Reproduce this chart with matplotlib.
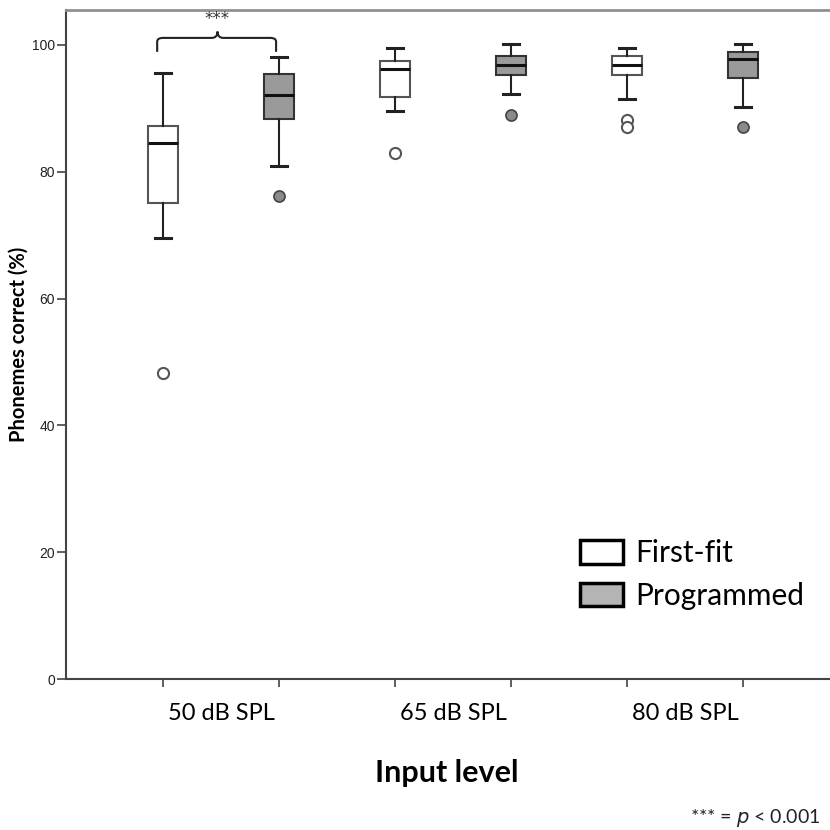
import matplotlib
matplotlib.use('Agg')
import matplotlib.pyplot as plt
from matplotlib.patches import Patch, PathPatch
from matplotlib.path import Path

# values (phonemes correct, %)
levels = ['50 dB SPL', '65 dB SPL', '80 dB SPL']

ff_whislo = [69.6, 89.6, 91.5]
ff_q1 = [75.1, 91.8, 95.2]
ff_med = [84.5, 96.2, 96.9]
ff_q3 = [87.2, 97.5, 98.3]
ff_whishi = [95.6, 99.5, 99.5]
ff_fliers = [[48.3], [83.0], [88.2, 87.0]]

pr_whislo = [80.9, 92.2, 90.2]
pr_q1 = [88.3, 95.2, 94.8]
pr_med = [92.1, 96.9, 97.8]
pr_q3 = [95.4, 98.3, 98.9]
pr_whishi = [98.1, 100.2, 100.2]
pr_fliers = [[76.2], [88.9], [87.0]]


def make_stats(lo, q1, med, q3, hi, fl):
    return [dict(whislo=a, q1=b, med=c, q3=d, whishi=e, fliers=f)
            for a, b, c, d, e, f in zip(lo, q1, med, q3, hi, fl)]


fig = plt.figure(figsize=(8.3, 8.3), dpi=100)
ax = fig.add_axes([66 / 830, 151 / 830, 774 / 830, 669 / 830])

ff_pos = [1, 3, 5]
pr_pos = [2, 4, 6]
bw = 0.26

ax.bxp(make_stats(ff_whislo, ff_q1, ff_med, ff_q3, ff_whishi, ff_fliers),
       positions=ff_pos, widths=bw, patch_artist=True,
       boxprops=dict(facecolor='white', edgecolor='#555555', linewidth=1.5),
       medianprops=dict(color='#111111', linewidth=2.2),
       whiskerprops=dict(color='#222222', linewidth=1.5),
       capprops=dict(color='#222222', linewidth=2.2),
       capwidths=bw / 2,
       flierprops=dict(marker='o', markersize=8, markerfacecolor='white',
                       markeredgecolor='#555555', markeredgewidth=1.5))

ax.bxp(make_stats(pr_whislo, pr_q1, pr_med, pr_q3, pr_whishi, pr_fliers),
       positions=pr_pos, widths=bw, patch_artist=True,
       boxprops=dict(facecolor='#9a9a9a', edgecolor='#333333', linewidth=1.5),
       medianprops=dict(color='#111111', linewidth=2.2),
       whiskerprops=dict(color='#222222', linewidth=1.5),
       capprops=dict(color='#222222', linewidth=2.2),
       capwidths=bw / 2,
       flierprops=dict(marker='o', markersize=8, markerfacecolor='#8a8a8a',
                       markeredgecolor='#444444', markeredgewidth=1.2))

# significance brace between the two 50 dB boxes
xl, xr, xc = 0.95, 1.975, 1.47
yb, yh, yt = 98.9, 101.1, 102.1
verts = [(xl, yb), (xl, yh - 0.6), (xl, yh), (xl + 0.05, yh),
         (xc - 0.05, yh), (xc, yh), (xc, yt), (xc, yh), (xc + 0.05, yh),
         (xr - 0.05, yh), (xr, yh), (xr, yh - 0.6), (xr, yb)]
codes = [Path.MOVETO, Path.LINETO, Path.CURVE3, Path.CURVE3,
         Path.LINETO, Path.CURVE3, Path.CURVE3, Path.CURVE3, Path.CURVE3,
         Path.LINETO, Path.CURVE3, Path.CURVE3, Path.LINETO]
ax.add_patch(PathPatch(Path(verts, codes), facecolor='none',
                       edgecolor='#222222', linewidth=1.5))
ax.text(xc, 104.1, '***', ha='center', va='center', fontsize=12,
        color='#333333')

ax.set_xlim(0.164, 6.836)
ax.set_ylim(0, 105.5)

ax.set_yticks([0, 20, 40, 60, 80, 100])
ax.tick_params(axis='y', labelsize=10, length=6.5, width=1.2, pad=1.5,
               color='#444444', labelcolor='#222222')
for lab in ax.get_yticklabels():
    lab.set_family('Liberation Sans')

ax.set_xticks([1, 2, 3, 4, 5, 6])
ax.set_xticklabels([])
ax.set_xticks([1.5, 3.5, 5.5], minor=True)
ax.set_xticklabels(levels, minor=True, family='Lato', fontsize=17)
ax.tick_params(axis='x', which='major', length=6, width=1.2, color='#444444')
ax.tick_params(axis='x', which='minor', length=0, pad=17)

for s in ['left', 'bottom']:
    ax.spines[s].set_color('#444444')
    ax.spines[s].set_linewidth(1.5)
ax.spines['top'].set_color('#909090')
ax.spines['top'].set_linewidth(2)
ax.spines['right'].set_visible(False)

ax.set_ylabel('Phonemes correct (%)', family='Lato', fontweight='bold',
              fontsize=14.5, labelpad=2)
ax.set_xlabel('Input level', family='Lato', fontweight='bold', fontsize=22)
ax.xaxis.set_label_coords((447 - 66) / 774, -0.12)

handles = [Patch(facecolor='white', edgecolor='black', linewidth=2.5),
           Patch(facecolor='#b4b4b4', edgecolor='black', linewidth=2.5)]
ax.legend(handles, ['First-fit', 'Programmed'], loc='upper left',
          bbox_to_anchor=((580 - 66) / 774, (679 - 539) / 669), frameon=False,
          prop=dict(family='Lato', size=21.5), handlelength=1.44,
          handleheight=0.85, handletextpad=0.4, labelspacing=0.5,
          borderpad=0, borderaxespad=0)

fig.text(690 / 830, 1 - 818 / 830, '*** = $p$ < 0.001', ha='left',
         va='center', family='Lato', fontsize=14, color='#222222')

fig.savefig('out.png', dpi=100)
